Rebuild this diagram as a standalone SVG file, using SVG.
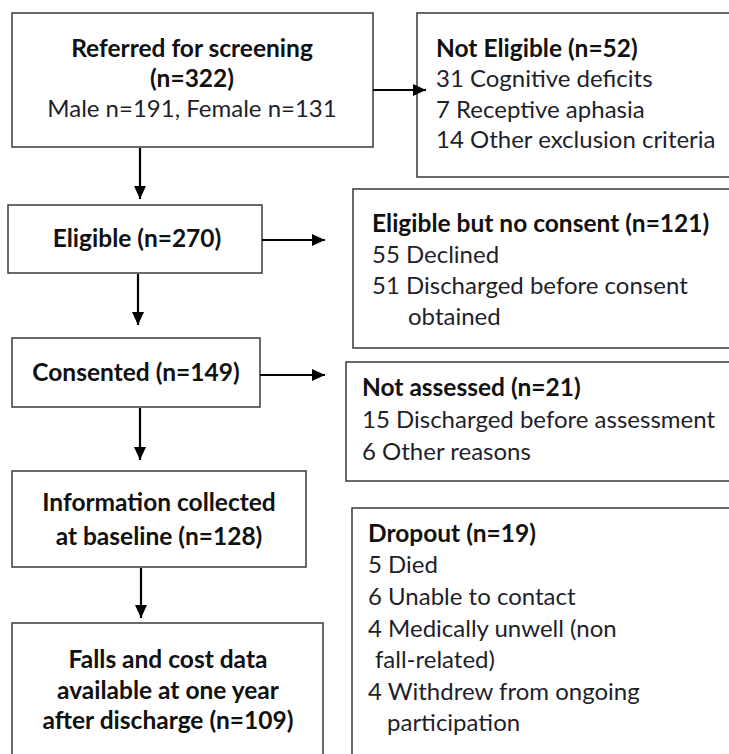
<svg xmlns="http://www.w3.org/2000/svg" width="729" height="754" viewBox="0 0 729 754">
<defs>
<style>
.box{fill:#fff;stroke:#3a3a3a;stroke-width:1.5}
.t{font-family:Lato,"Open Sans","Liberation Sans",sans-serif;font-size:24px;fill:#1f1f2a}
.b{font-weight:bold;font-size:24.5px;fill:#111}
.c{text-anchor:middle}
.con line{stroke:#000;stroke-width:2.2;marker-end:url(#ah)}
</style>
<marker id="ah" markerUnits="userSpaceOnUse" markerWidth="14" markerHeight="12" refX="13" refY="6" orient="auto">
<path d="M0,0 L13,6 L0,12 z" fill="#000"/>
</marker>
</defs>
<rect width="729" height="754" fill="#fff"/>

<g id="referred">
<rect class="box" x="12" y="13" width="361" height="134"/>
<text class="t b c" x="192" y="57">Referred for screening</text>
<text class="t b c" x="192" y="87">(n=322)</text>
<text class="t c" x="192" y="117">Male n=191, Female n=131</text>
</g>

<g id="not-eligible">
<rect class="box" x="417" y="13" width="330" height="164"/>
<text class="t b" x="436" y="57">Not Eligible (n=52)</text>
<text class="t" x="436" y="87">31 Cognitive deficits</text>
<text class="t" x="436" y="118">7 Receptive aphasia</text>
<text class="t" x="436" y="148">14 Other exclusion criteria</text>
</g>

<g id="eligible">
<rect class="box" x="8" y="205" width="254" height="68"/>
<text class="t b c" x="137" y="247">Eligible (n=270)</text>
</g>

<g id="no-consent">
<rect class="box" x="353" y="189" width="394" height="159"/>
<text class="t b" x="372" y="232">Eligible but no consent (n=121)</text>
<text class="t" x="372" y="263">55 Declined</text>
<text class="t" x="372" y="294">51 Discharged before consent</text>
<text class="t" x="408" y="325">obtained</text>
</g>

<g id="consented">
<rect class="box" x="12" y="338" width="248" height="69"/>
<text class="t b c" x="136" y="381">Consented (n=149)</text>
</g>

<g id="not-assessed">
<rect class="box" x="346" y="362" width="401" height="119"/>
<text class="t b" x="362" y="396">Not assessed (n=21)</text>
<text class="t" x="362" y="428">15 Discharged before assessment</text>
<text class="t" x="362" y="460">6 Other reasons</text>
</g>

<g id="baseline">
<rect class="box" x="12" y="471" width="294" height="96"/>
<text class="t b c" x="159" y="511">Information collected</text>
<text class="t b c" x="159" y="545">at baseline (n=128)</text>
</g>

<g id="dropout">
<rect class="box" x="352" y="508" width="395" height="260"/>
<text class="t b" x="368" y="542">Dropout (n=19)</text>
<text class="t" x="368" y="573">5 Died</text>
<text class="t" x="368" y="605">6 Unable to contact</text>
<text class="t" x="368" y="637">4 Medically unwell (non</text>
<text class="t" x="375" y="668">fall-related)</text>
<text class="t" x="368" y="700">4 Withdrew from ongoing</text>
<text class="t" x="387" y="731">participation</text>
</g>

<g id="falls">
<rect class="box" x="12" y="623" width="311" height="145"/>
<text class="t b c" x="168" y="668">Falls and cost data</text>
<text class="t b c" x="168" y="699">available at one year</text>
<text class="t b c" x="168" y="729">after discharge (n=109)</text>
</g>

<g id="connectors" class="con">
<line x1="140" y1="148" x2="140" y2="199"/>
<line x1="138" y1="274" x2="138" y2="325"/>
<line x1="140" y1="408" x2="140" y2="460"/>
<line x1="141" y1="568" x2="141" y2="618"/>
<line x1="373" y1="90" x2="426" y2="90"/>
<line x1="262" y1="240" x2="325" y2="240"/>
<line x1="260" y1="375" x2="325" y2="375"/>
</g>
</svg>
